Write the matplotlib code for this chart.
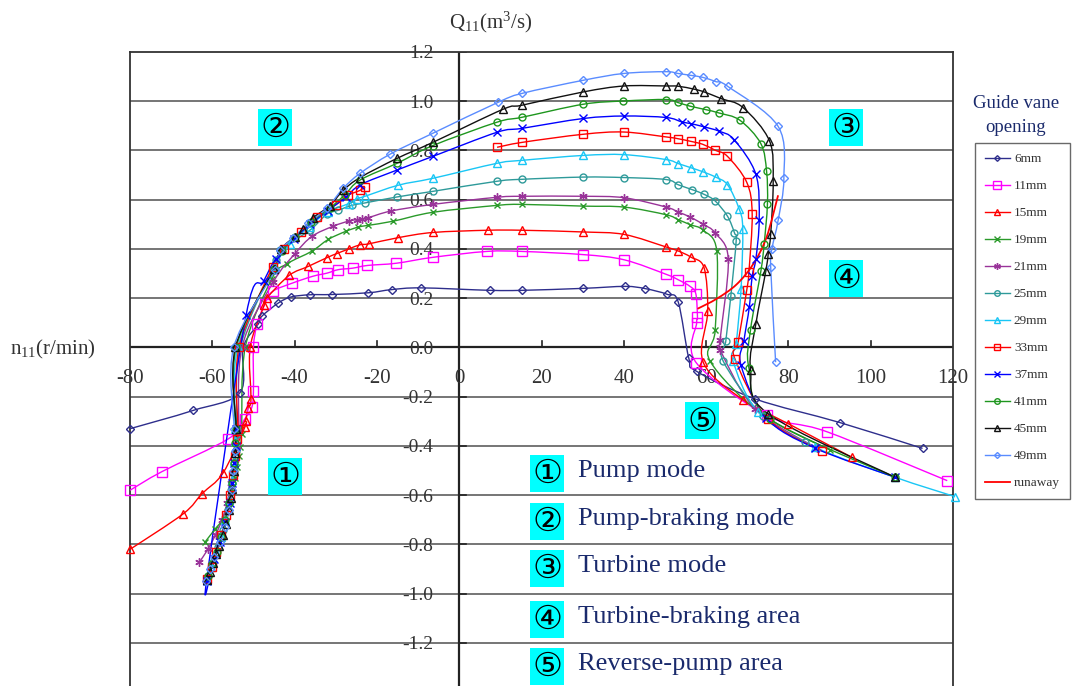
import numpy as np
import matplotlib
matplotlib.use("Agg")
import matplotlib.pyplot as plt
from matplotlib.path import Path
from matplotlib.patches import PathPatch
from matplotlib.lines import Line2D

plt.rcParams['font.family'] = ['Liberation Serif', 'DejaVu Serif']
plt.rcParams['mathtext.fontset'] = 'custom'
plt.rcParams['mathtext.rm'] = 'Liberation Serif'

nan = float('nan')

# ---------------- data (n11, Q11) ----------------
n_6mm = [-80.0, -64.7, -53.3, -52.5, -48.8, -48.0, -44.0, -40.9, -36.3, -31.0, -22.1, -16.4, -9.3, 7.5, 15.3,
         30.1, 40.3, 45.2, 50.5, 53.2, 55.8, 57.7, 71.9, 92.5, 112.6]
q_6mm = [-0.330, -0.256, -0.184, 0.0, 0.096, 0.126, 0.180, 0.205, 0.214, 0.215, 0.222, 0.235, 0.242, 0.232, 0.232,
         0.240, 0.248, 0.239, 0.216, 0.186, -0.044, -0.097, -0.209, -0.305, -0.410]

n_11mm = [-80.0, -72.2, -56.1, -52.1, -50.4, -50.0, -50.0, -49.1, -47.2, -45.3, -40.6, -35.6, -32.1, -29.4, -25.9,
          -22.3, -15.3, -6.4, 6.7, 15.3, 30.2, 40.1, 50.3, 53.1, 56.1, 57.5, 57.9, 57.7, 57.6, 74.7, 89.3, 118.6]
q_11mm = [-0.58, -0.504, -0.371, -0.29, -0.243, -0.175, 0.0, 0.096, 0.178, 0.228, 0.261, 0.289, 0.302, 0.316, 0.322,
          0.333, 0.342, 0.366, 0.39, 0.39, 0.377, 0.356, 0.297, 0.276, 0.248, 0.218, 0.123, 0.1, -0.062, -0.276,
          -0.342, -0.541]

n_15mm = [-80.0, -67.1, -62.5, -57.4, -52.1, -51.9, -51.3, -50.6, -50.8, -47.4, -46.8, -41.3, -36.7, -32.1, -29.8,
          -26.7, -24.1, -21.9, -14.8, -6.4, 6.9, 15.3, 30.2, 40.1, 50.3, 53.2, 56.3, 59.5, 60.4, 59.3, 69.0, 80.0, 95.4]
q_15mm = [-0.82, -0.676, -0.594, -0.51, -0.324, -0.297, -0.245, -0.209, 0.0, 0.171, 0.2, 0.293, 0.329, 0.365, 0.381,
          0.401, 0.417, 0.421, 0.446, 0.467, 0.476, 0.476, 0.469, 0.459, 0.408, 0.392, 0.367, 0.324, 0.148, -0.06,
          -0.213, -0.31, -0.446]

n_19mm = [-61.8, -59.3, -57.7, -56.3, -55.3, -54.6, -54.1, -53.6, -53.3, -52.9, -52.0, -45.5, -41.8, -35.8, -31.8,
          -27.5, -24.5, -22.1, -16.0, -6.4, 9.2, 15.3, 30.2, 40.1, 50.3, 53.2, 56.1, 59.3, 62.6, 62.2, 61.0, 73.5, 90.1]
q_19mm = [-0.791, -0.737, -0.703, -0.64, -0.581, -0.53, -0.487, -0.44, -0.405, -0.351, 0.0, 0.28, 0.34, 0.391, 0.439,
          0.472, 0.489, 0.496, 0.513, 0.549, 0.577, 0.581, 0.574, 0.57, 0.539, 0.519, 0.499, 0.476, 0.392, 0.069,
          -0.056, -0.27, -0.416]

n_21mm = [-63.2, -61.0, -59.2, -57.6, -56.4, -55.4, -54.6, -54.0, -53.6, -52.8, -45.2, -39.9, -35.8, -30.7, -26.9,
          -24.9, -23.5, -22.1, -16.6, -6.4, 9.2, 15.3, 30.2, 40.1, 50.3, 53.2, 56.1, 59.3, 62.2, 65.4, 63.4, 63.4,
          71.9, 87.0]
q_21mm = [-0.873, -0.818, -0.76, -0.70, -0.63, -0.55, -0.47, -0.40, -0.34, 0.0, 0.265, 0.381, 0.451, 0.492, 0.513,
          0.519, 0.523, 0.527, 0.554, 0.581, 0.61, 0.614, 0.614, 0.608, 0.57, 0.55, 0.53, 0.50, 0.465, 0.358, 0.031,
          -0.009, -0.249, -0.41]

n_25mm = [-61.0, -59.8, -58.6, -57.4, -56.3, -55.4, -54.8, -54.3, -54.1, -53.2, -44.4, -43.5, -36.3, -32.2, -29.4,
          -26.1, -22.9, -15.2, -6.4, 9.2, 15.3, 30.2, 40.1, 50.3, 53.2, 56.6, 59.5, 62.2, 65.2, 66.9, 67.3, 66.0,
          64.8, 64.2, 73.8, 84.0]
q_25mm = [-0.93, -0.87, -0.81, -0.74, -0.66, -0.58, -0.50, -0.42, -0.35, 0.0, 0.356, 0.397, 0.476, 0.541, 0.557,
          0.577, 0.587, 0.611, 0.634, 0.675, 0.683, 0.692, 0.69, 0.682, 0.661, 0.641, 0.622, 0.595, 0.533, 0.465,
          0.431, 0.207, 0.028, -0.057, -0.28, -0.385]

n_29mm = [-61.4, -60.3, -59.2, -58.0, -56.9, -55.9, -55.2, -54.7, -54.4, -54.5, -53.8, -44.8, -41.0, -36.5, -32.0,
          -26.9, -24.9, -22.9, -14.8, -6.4, 9.2, 15.3, 30.2, 40.1, 50.3, 53.2, 56.3, 59.3, 62.3, 65.2, 68.0, 68.9,
          68.5, 67.3, 66.5, 72.7, 86.5, 105.9, 120.5]
q_29mm = [-0.945, -0.89, -0.83, -0.77, -0.70, -0.62, -0.54, -0.46, -0.38, -0.33, 0.0, 0.33, 0.42, 0.49, 0.55,
          0.584, 0.604, 0.614, 0.659, 0.687, 0.748, 0.76, 0.78, 0.783, 0.763, 0.747, 0.73, 0.713, 0.692, 0.661,
          0.564, 0.483, 0.239, 0.015, -0.053, -0.263, -0.405, -0.527, -0.606]

n_33mm = [-61.2, -60.1, -59.0, -57.8, -56.6, -55.7, -55.0, -54.5, -54.0, -53.8, -53.5, -45.3, -42.5, -38.5, -34.5,
          -30.0, -27.0, -24.1, -22.9, nan, 9.2, 15.3, 30.2, 40.0, 50.3, 53.1, 56.3, 59.2, 62.2, 65.2, 69.9, 71.2,
          70.4, 69.9, 67.8, 67.0, 75.0, 88.1]
q_33mm = [-0.94, -0.89, -0.83, -0.76, -0.68, -0.60, -0.52, -0.44, -0.37, -0.33, 0.0, 0.328, 0.40, 0.47, 0.53,
          0.58, 0.618, 0.638, 0.652, nan, 0.813, 0.833, 0.866, 0.875, 0.855, 0.848, 0.837, 0.825, 0.801, 0.776,
          0.67, 0.541, 0.306, 0.235, 0.022, -0.046, -0.29, -0.421]

n_37mm = [-54.2, -54.3, -54.7, -55.2, -55.8, -56.8, -58.2, -59.6, -61.4, -51.8, -47.5, -44.6, -40.2, -36.2, -32.0,
          -27.5, -24.1, -15.2, -6.4, 9.2, 15.3, 30.2, 40.1, 50.3, 54.1, 56.3, 59.5, 63.2, 66.8, 72.1, 72.9, 72.1,
          71.2, 70.5, 69.2, 68.5, 74.5, 86.5, 105.9]
q_37mm = [-0.33, -0.40, -0.47, -0.55, -0.63, -0.71, -0.79, -0.86, -0.947, 0.13, 0.27, 0.36, 0.44, 0.50, 0.555,
          0.61, 0.66, 0.72, 0.776, 0.874, 0.89, 0.93, 0.94, 0.934, 0.916, 0.909, 0.896, 0.878, 0.844, 0.703, 0.519,
          0.36, 0.289, 0.164, 0.028, -0.073, -0.285, -0.409, -0.527]

n_41mm = [-61.0, -60.0, -58.9, -57.8, -56.8, -55.9, -55.2, -54.7, -54.4, -54.3, -54.2, -45.0, -43.0, -39.8, -36.0,
          -31.5, -27.8, -24.1, -15.1, -6.4, 9.2, 15.3, 30.2, 39.9, 50.3, 53.1, 56.1, 59.9, 63.2, 68.2, 73.3, 74.7,
          74.9, 74.1, 73.3, 70.8, 70.4, 75.5, 105.9]
q_41mm = [-0.93, -0.88, -0.83, -0.77, -0.70, -0.63, -0.55, -0.47, -0.39, -0.33, 0.0, 0.32, 0.39, 0.45, 0.51,
          0.565, 0.62, 0.68, 0.748, 0.82, 0.915, 0.935, 0.988, 1.001, 1.007, 0.995, 0.98, 0.966, 0.952, 0.923,
          0.828, 0.715, 0.581, 0.419, 0.309, 0.072, -0.083, -0.29, -0.527]

n_45mm = [-61.3, -60.5, -59.8, -59.1, -58.4, -57.5, -56.7, -56.0, -55.5, -55.2, -54.8, -54.5, -54.2, -54.4, -44.9,
          -43.2, -40.0, -37.9, -35.5, -31.5, -28.2, -24.1, -15.1, -6.4, 10.6, 15.3, 30.2, 40.1, 50.3, 53.2, 57.1,
          59.5, 63.6, 69.0, 75.4, 76.3, 75.7, 75.1, 74.5, 72.1, 70.8, 75.1, 105.9]
q_45mm = [-0.943, -0.91, -0.874, -0.84, -0.805, -0.76, -0.716, -0.66, -0.61, -0.573, -0.50, -0.43, -0.33, 0.0,
          0.32, 0.40, 0.45, 0.482, 0.527, 0.575, 0.638, 0.69, 0.768, 0.833, 0.967, 0.984, 1.038, 1.062, 1.062,
          1.061, 1.049, 1.038, 1.011, 0.974, 0.839, 0.675, 0.462, 0.381, 0.309, 0.096, -0.091, -0.27, -0.527]

n_49mm = [-61.6, -60.6, -59.5, -58.2, -57.0, -56.0, -55.3, -54.9, -54.6, -54.7, -54.8, -44.8, -43.6, -40.4, -36.7,
          -32.2, -28.2, -24.1, -16.8, -6.4, 9.5, 15.3, 30.1, 40.1, 50.2, 53.1, 56.3, 59.2, 62.3, 65.3, 77.5, 78.9,
          77.5, 76.0, 75.7, 76.9]
q_49mm = [-0.95, -0.90, -0.85, -0.79, -0.73, -0.66, -0.58, -0.50, -0.42, -0.33, 0.0, 0.313, 0.394, 0.443, 0.504,
          0.565, 0.646, 0.707, 0.785, 0.87, 0.996, 1.032, 1.085, 1.113, 1.12, 1.113, 1.105, 1.097, 1.08, 1.06,
          0.898, 0.687, 0.516, 0.40, 0.325, -0.06]

n_runaway = [57.9, 62.6, 67.4, 71.5, 74.7, 77.5]
q_runaway = [0.157, 0.198, 0.256, 0.340, 0.448, 0.618]

labels = ["6mm", "11mm", "15mm", "19mm", "21mm", "25mm", "29mm", "33mm", "37mm", "41mm", "45mm", "49mm"]
n_all = [n_6mm, n_11mm, n_15mm, n_19mm, n_21mm, n_25mm, n_29mm, n_33mm, n_37mm, n_41mm, n_45mm, n_49mm]
q_all = [q_6mm, q_11mm, q_15mm, q_19mm, q_21mm, q_25mm, q_29mm, q_33mm, q_37mm, q_41mm, q_45mm, q_49mm]

# ---------------- styles ----------------
colors = ['#2E2E8C', '#FF00FF', '#FF0000', '#2A9A2A', '#993399', '#2E9A9A',
          '#19C6F5', '#FF0000', '#0000FF', '#1E961E', '#111111', '#5A8CFF']
markers = ['D', 's', '^', 'x', (6, 2, 0), 'o', '^', 's', 'x', 'o', '^', 'D']
msizes = [3.6, 6.5, 5.5, 5.0, 6.0, 5.0, 5.5, 5.5, 5.5, 5.0, 5.5, 3.8]


def smooth_path(xs, ys, t=1.0 / 6.0):
    """Smoothed (Excel-like) cubic Bezier path through the data points."""
    xs = np.asarray(xs, float)
    ys = np.asarray(ys, float)
    verts, codes = [], []
    seg = []
    segs = []
    for x, y in zip(xs, ys):
        if np.isnan(x) or np.isnan(y):
            if seg:
                segs.append(seg)
            seg = []
        else:
            seg.append(np.array([x, y]))
    if seg:
        segs.append(seg)
    for P in segs:
        m = len(P)
        verts.append(P[0]); codes.append(Path.MOVETO)
        for i in range(m - 1):
            p0 = P[i - 1] if i > 0 else P[i]
            p3 = P[i + 2] if i + 2 < m else P[i + 1]
            c1 = P[i] + (P[i + 1] - p0) * t
            c2 = P[i + 1] - (p3 - P[i]) * t
            verts += [c1, c2, P[i + 1]]
            codes += [Path.CURVE4] * 3
    return Path(verts, codes)


W, H = 1072, 686
fig = plt.figure(figsize=(W / 100, H / 100), dpi=100)
x0, x1, ytop = 130, 953, 52
ax = fig.add_axes([x0 / W, 0, (x1 - x0) / W, (H - ytop) / H])
ax.set_xlim(-80, 120)
ax.set_ylim(-1.375, 1.2)
ax.set_xticks([])
ax.set_yticks([])
for s in ['left', 'top', 'right']:
    ax.spines[s].set_color('#333333')
    ax.spines[s].set_linewidth(1.3)
ax.spines['bottom'].set_visible(False)

# grid lines
ygrid = [-1.2, -1.0, -0.8, -0.6, -0.4, -0.2, 0.2, 0.4, 0.6, 0.8, 1.0]
for yv in ygrid:
    ax.axhline(yv, color='#6a6a6a', lw=1.3, zorder=1)
ax.axhline(0, color='#222222', lw=1.6, zorder=1)
ax.axvline(0, color='#222222', lw=1.6, zorder=1)

# tick marks + tick labels
xticks = [-80, -60, -40, -20, 0, 20, 40, 60, 80, 100, 120]
for xv in xticks[1:-1]:
    ax.plot([xv, xv], [0, 0.028], color='#222222', lw=1.2, zorder=1)
for xv in xticks:
    ax.text(xv, -0.128, str(xv), ha='center', va='center', fontsize=15, color='#333333')
yticks = [-1.2, -1.0, -0.8, -0.6, -0.4, -0.2, 0.0, 0.2, 0.4, 0.6, 0.8, 1.0, 1.2]
ylabels = ["-1.2", "-1.0", "-0.8", "-0.6", "-0.4", "-0.2", "0.0", "0.2", "0.4", "0.6", "0.8", "1.0", "1.2"]
for yv, lab in zip(yticks, ylabels):
    ax.plot([0, 1.7], [yv, yv], color='#222222', lw=1.2, zorder=1)
    ax.text(-6.3, yv - 0.008, lab, ha='right', va='center', fontsize=14, color='#333333')

# curves
handles = []
for lab, nx, qy, c, mk, ms in zip(labels, n_all, q_all, colors, markers, msizes):
    patch = PathPatch(smooth_path(nx, qy), facecolor='none', edgecolor=c, lw=1.0, zorder=3, clip_on=False)
    ax.add_patch(patch)
    ax.plot(nx, qy, linestyle='none', marker=mk, ms=ms, mfc='none', mec=c, mew=1.0, zorder=4, clip_on=False)
    handles.append(Line2D([], [], color=c, lw=1.0, marker=mk, ms=ms * 0.8, mfc='none', mec=c, mew=1.0, label=lab))
ax.add_patch(PathPatch(smooth_path(n_runaway, q_runaway), facecolor='none', edgecolor='#FF0000', lw=1.3, zorder=3))
handles.append(Line2D([], [], color='#FF0000', lw=1.3, label='runaway'))

# axis titles
fig.text(491 / W, 1 - 22 / H, r'$\mathregular{Q_{11}(m^3/s)}$', ha='center', va='center', fontsize=15, color='#333333')
fig.text(10 / W, 1 - 349 / H, r'$\mathregular{n_{11}(r/min)}$', ha='left', va='center', fontsize=15, color='#333333')

# region labels
circ = ['DejaVu Sans', 'Noto Sans CJK SC']
box = dict(boxstyle='square,pad=0.06', fc='#00FFFF', ec='none')
regions = [("②", 275, 127), ("③", 846, 127), ("④", 846, 278), ("①", 285, 476), ("⑤", 702, 421)]
for sym, px, py in regions:
    fig.text(px / W, 1 - py / H, sym, ha='center', va='center', fontsize=24, family=circ, color='black', bbox=box,
             zorder=6)

modes = [("①", "Pump mode", 473), ("②", "Pump-braking mode", 521), ("③", "Turbine mode", 568),
         ("④", "Turbine-braking area", 619), ("⑤", "Reverse-pump area", 666)]
navy = '#1A2A6C'
for sym, txt, py in modes:
    fig.text(547 / W, 1 - py / H, sym, ha='center', va='center', fontsize=24, family=circ, color='black',
             bbox=box, zorder=6)
    fig.text(578 / W, 1 - (py - 2) / H, txt, ha='left', va='center', fontsize=19, color=navy, zorder=6)

# legend
fig.text(1016 / W, 1 - 104 / H, "Guide vane", ha='center', va='center', fontsize=13.5, color=navy)
fig.text(1016 / W, 1 - 128 / H, "opening", ha='center', va='center', fontsize=13.5, color=navy)
leg = fig.legend(handles=handles, loc='upper left', bbox_to_anchor=(975 / W, 1 - 143 / H), borderaxespad=0,
                 fontsize=9.5, labelspacing=1.12, handlelength=1.9, handletextpad=0.3, borderpad=0.75,
                 frameon=True, fancybox=False, edgecolor='#444444')
leg.get_frame().set_linewidth(1.0)
for t in leg.get_texts():
    t.set_color('#333333')

fig.savefig('out.png', dpi=100)
